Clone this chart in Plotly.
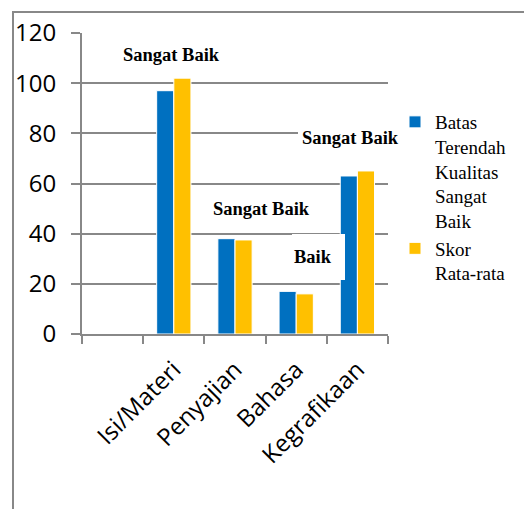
import plotly.graph_objects as go

# ---- data ----
categories = ["Isi/Materi", "Penyajian", "Bahasa", "Kegrafikaan"]
batas_terendah = [97, 38, 17, 63]
skor_rata_rata = [102, 37.5, 16, 65]
series_names = ["Batas<br>Terendah<br>Kualitas<br>Sangat<br>Baik", "Skor<br>Rata-rata"]
label_texts = ["Sangat Baik", "Sangat Baik", "Baik", "Sangat Baik"]
y_ticks = [0, 20, 40, 60, 80, 100, 120]

# ---- layout geometry (pixels) ----
W, H = 524, 509
L, R, T, B = 82, 388, 33, 334
GRAY = "#888888"
BLUE = "#0070C0"
YELLOW = "#FFC000"


def px_x(px):
    return (px - L) / (R - L)


def px_y(py):
    return (B - py) / (B - T)


fig = go.Figure()
fig.add_bar(name=series_names[0], x=categories, y=batas_terendah,
            marker=dict(color=BLUE, line=dict(color="white", width=1)))
fig.add_bar(name=series_names[1], x=categories, y=skor_rata_rata,
            marker=dict(color=YELLOW, line=dict(color="white", width=1)))

shapes = []
# outer frame (left and top border)
shapes.append(dict(type="path", xref="paper", yref="paper", layer="above",
                   path="M %f,%f L %f,%f L %f,%f" % (px_x(13), px_y(520), px_x(13), px_y(12),
                                                   px_x(530), px_y(12)),
                   line=dict(color=GRAY, width=2)))
# white label boxes hiding gridlines
for (x0, x1, y0, y1) in [(101, 290, 20, 72), (298, 402, 120, 155), (292, 345, 234, 280)]:
    shapes.append(dict(type="rect", xref="paper", yref="paper", layer="above",
                       x0=px_x(x0), x1=px_x(x1), y0=px_y(y1), y1=px_y(y0),
                       fillcolor="white", line=dict(width=0)))

label_pos = [(171, 55), (261, 209), (313, 257), (350, 138)]
annotations = []
for txt, (cx, cy) in zip(label_texts, label_pos):
    annotations.append(dict(text="<b>%s</b>" % txt, xref="paper", yref="paper",
                            x=px_x(cx), y=px_y(cy), xanchor="center", yanchor="middle",
                            showarrow=False,
                            font=dict(family="Liberation Serif", size=18.5, color="black")))

fig.update_layout(
    width=W, height=H,
    margin=dict(l=L, r=W - R, t=T, b=H - B, autoexpand=False),
    paper_bgcolor="white", plot_bgcolor="white",
    barmode="group", bargap=0.44, bargroupgap=0.0,
    shapes=shapes, annotations=annotations,
    showlegend=True,
    legend=dict(x=px_x(395), y=px_y(103), xanchor="left", yanchor="top",
                font=dict(family="Liberation Serif", size=19, color="black"),
                valign="top", bgcolor="rgba(0,0,0,0)", tracegroupgap=0),
    xaxis=dict(type="category", categoryorder="array",
               categoryarray=[" "] + categories, range=[-0.5, len(categories) + 0.5],
               tickson="boundaries", ticks="outside", ticklen=8, tickwidth=2, tickcolor=GRAY,
               showline=True, linecolor=GRAY, linewidth=2, showgrid=False,
               ticklabelstandoff=10,
               tickangle=-45, tickfont=dict(family="Open Sans", size=24, color="black")),
    yaxis=dict(range=[0, 120], tickvals=y_ticks, showgrid=True, gridcolor=GRAY, gridwidth=2,
               ticks="outside", ticklen=9, tickwidth=2, tickcolor=GRAY,
               showline=True, linecolor=GRAY, linewidth=2, zeroline=False,
               ticklabelstandoff=10,
               tickfont=dict(family="Open Sans", size=24, color="black")),
)

fig.write_html("out.html", config={"displayModeBar": False},
               post_script="document.body.style.margin='0px';document.body.style.overflow='hidden';")
